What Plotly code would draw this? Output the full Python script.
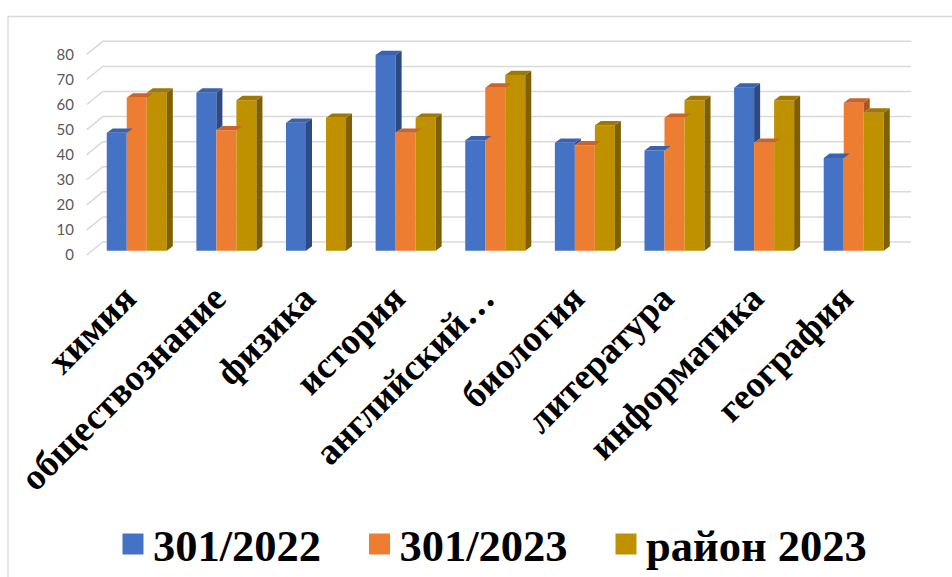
import plotly.graph_objects as go

# ---------------- data ----------------
categories = ["химия", "обществознание", "физика", "история", "английский…",
              "биология", "литература", "информатика", "география"]
s_301_2022 = [47, 63, 51, 78, 44, 43, 40, 65, 37]
s_301_2023 = [61, 48, None, 47, 65, 42, 53, 43, 59]
s_rayon_2023 = [63, 60, 53, 53, 70, 50, 60, 60, 55]
series_names = ["301/2022", "301/2023", "район 2023"]
y_ticks = [0, 10, 20, 30, 40, 50, 60, 70, 80]

# ---------------- styles ----------------
front_colors = ["#4472C4", "#ED7D31", "#BF9000"]
top_colors = ["#3A62AE", "#CC6428", "#9E7800"]
side_colors = ["#2C4B84", "#A9561F", "#7F6000"]

W, H = 952, 577
ML, MR, MT, MB = 83, 40, 40, 320
X_RANGE = [-0.6, 8.65]
Y_RANGE = [-2.5, 84]

BAR_W = 0.2233      # width of one bar (category units)
GROUP_OFF = -0.335  # left edge of first bar relative to category centre
DX = 0.067          # 3D depth, x (category units)
DY = 1.75           # 3D depth, y (value units)
FRONT_SHIFT = -1.7  # label/front grid offset (value units)
BACK_SHIFT = 3.47   # back-wall offset (value units)
FRONT_X = -0.558
BACK_X = -0.379
RIGHT_X = 8.64
LABEL_SHIFT = -0.13
LEGEND_PAD = "\u00a0\u00a0\u00a0"

series = [s_301_2022, s_301_2023, s_rayon_2023]
idx = list(range(len(categories)))

fig = go.Figure()

# front faces as bars
for k, vals in enumerate(series):
    fig.add_trace(go.Bar(
        x=idx, y=vals, offset=GROUP_OFF + k * BAR_W, width=BAR_W,
        marker=dict(color=front_colors[k], line=dict(width=0)),
        showlegend=False, hoverinfo="skip", name=series_names[k]))

# top & side faces
for k, vals in enumerate(series):
    tx, ty, sx, sy = [], [], [], []
    for i, v in enumerate(vals):
        if v is None:
            continue
        xl = i + GROUP_OFF + k * BAR_W
        xr = xl + BAR_W
        tx += [xl, xl + DX, xr + DX, xr, xl, None]
        ty += [v, v + DY, v + DY, v, v, None]
        if k < len(series) - 1:
            vn = series[k + 1][i] or 0
        else:
            vn = 0
        if vn < v:
            sx += [xr, xr + DX, xr + DX, xr, xr, None]
            sy += [vn, vn + DY, v + DY, v, vn, None]
    fig.add_trace(go.Scatter(x=sx, y=sy, mode="lines", fill="toself",
                             fillcolor=side_colors[k], line=dict(width=0),
                             showlegend=False, hoverinfo="skip"))
    fig.add_trace(go.Scatter(x=tx, y=ty, mode="lines", fill="toself",
                             fillcolor=top_colors[k], line=dict(width=0),
                             showlegend=False, hoverinfo="skip"))

# legend entries
for k, name in enumerate(series_names):
    label = name + (LEGEND_PAD if k < len(series_names) - 1 else "")
    fig.add_trace(go.Scatter(x=[None], y=[None], mode="markers", name=label,
                             marker=dict(symbol="square", size=16, color=front_colors[k],
                                         line=dict(width=5, color=front_colors[k]))))

# gridlines (3D wall)
shapes = []
for v in y_ticks:
    shapes.append(dict(
        type="path", xref="x", yref="y", layer="below",
        path=f"M {FRONT_X},{v + FRONT_SHIFT} L {BACK_X},{v + BACK_SHIFT} L {RIGHT_X},{v + BACK_SHIFT}",
        line=dict(color="#D9D9D9", width=1.5)))

# chart-area frame
pw = W - ML - MR
ph = H - MT - MB
def px_x(p):
    return (p - ML) / pw
def px_y(p):
    return (H - MB - p) / ph
shapes.append(dict(
    type="path", xref="paper", yref="paper", layer="below",
    path=f"M {px_x(8)},{px_y(600)} L {px_x(8)},{px_y(16.5)} L {px_x(960)},{px_y(16.5)}",
    line=dict(color="#D9D9D9", width=1.3)))

fig.update_layout(
    width=W, height=H,
    margin=dict(l=ML, r=MR, t=MT, b=MB, autoexpand=False),
    paper_bgcolor="white", plot_bgcolor="white",
    barmode="overlay",
    shapes=shapes,
    showlegend=True,
    legend=dict(orientation="h", x=px_x(113), xanchor="left", y=px_y(544), yanchor="middle",
                font=dict(family="Liberation Serif", size=44.5, color="black", weight="bold"),
                bgcolor="rgba(0,0,0,0)", itemclick=False, itemdoubleclick=False),
    xaxis=dict(range=X_RANGE, tickmode="array", tickvals=[i + LABEL_SHIFT for i in idx],
               ticktext=categories,
               tickangle=-45, showgrid=False, zeroline=False, showline=False, ticks="",
               automargin=False, ticklabelstandoff=11,
               tickfont=dict(family="Liberation Serif", size=37, color="black", weight="bold")),
    yaxis=dict(range=Y_RANGE, tickmode="array",
               tickvals=[v + FRONT_SHIFT for v in y_ticks],
               ticktext=[str(v) for v in y_ticks],
               showgrid=False, zeroline=False, showline=False, ticks="",
               automargin=False, ticklabelstandoff=8,
               tickfont=dict(family="Lato", size=15, color="#595959")),
)

fig.write_html("out.html", config={"displayModeBar": False},
               post_script="document.body.style.margin='0';")
